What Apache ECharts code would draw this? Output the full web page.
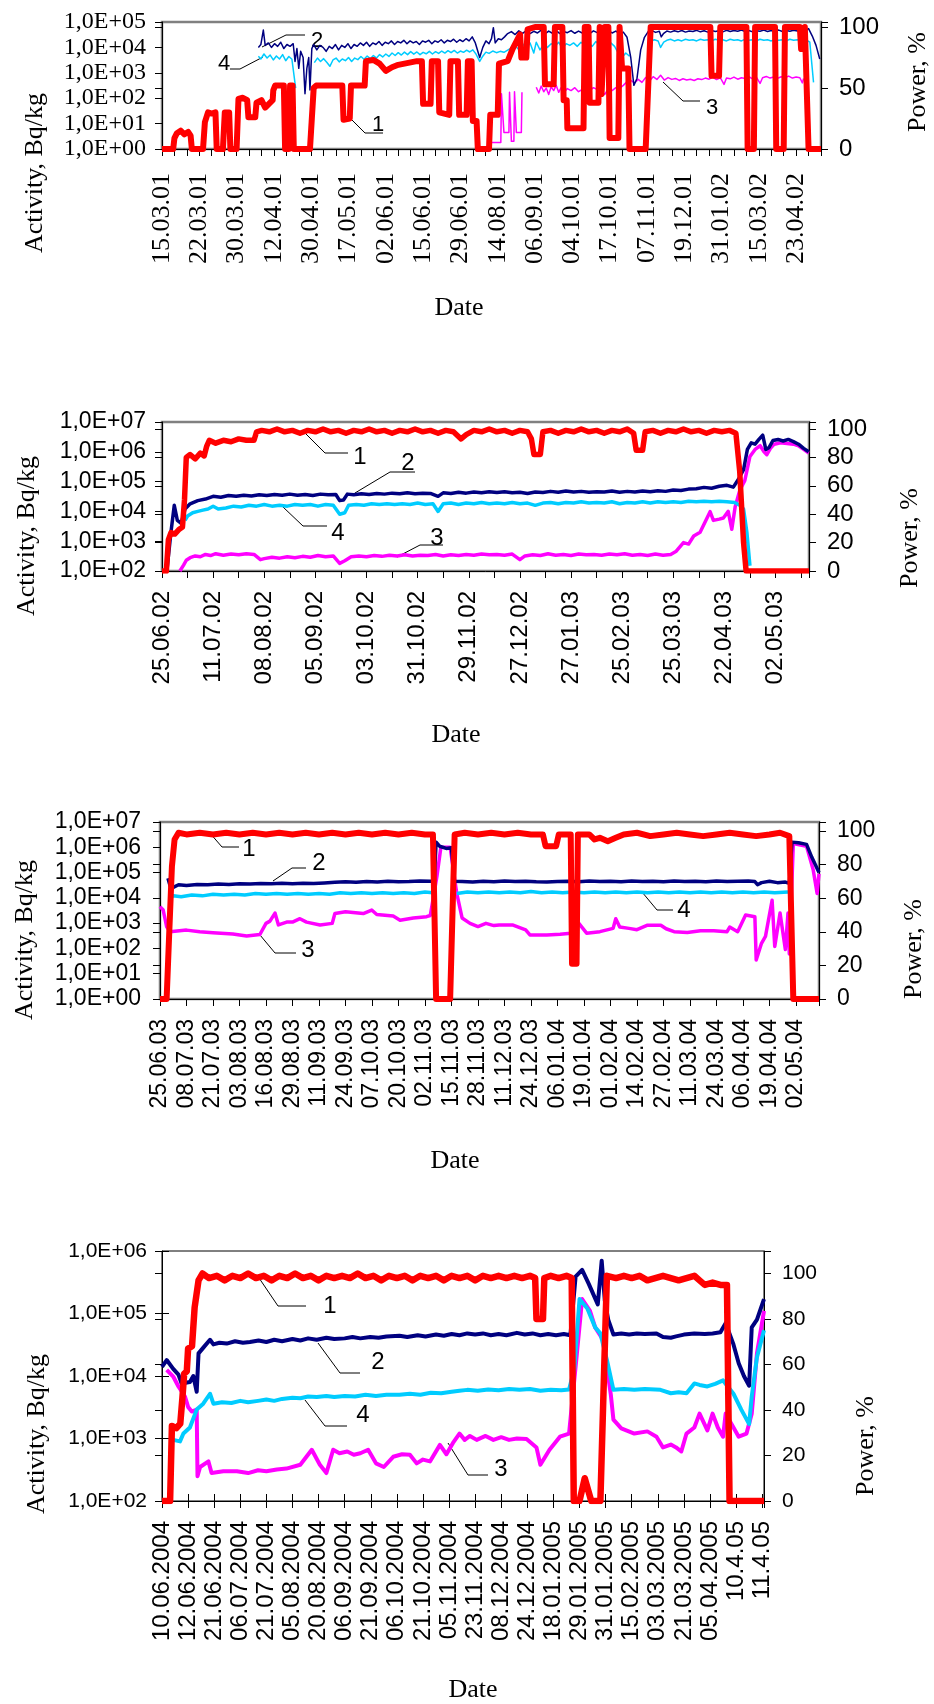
<!DOCTYPE html>
<html>
<head>
<meta charset="utf-8">
<title>Activity and power</title>
<script src="https://cdn.jsdelivr.net/npm/echarts@6/dist/echarts.min.js"></script>
<style>
  html, body { margin: 0; padding: 0; background: #fff; }
  #chart { width: 934px; height: 1704px; }
</style>
</head>
<body>
<div id="chart"></div>
<script>
// date labels, one every `step` ticks
const p1Labels = ['15.03.01','22.03.01','30.03.01','12.04.01','30.04.01','17.05.01','02.06.01','15.06.01','29.06.01',
  '14.08.01','06.09.01','04.10.01','17.10.01','07.11.01','19.12.01','31.01.02','15.03.02','23.04.02'];
const p2Labels = ['25.06.02','11.07.02','08.08.02','05.09.02','03.10.02','31.10.02','29.11.02','27.12.02','27.01.03',
  '25.02.03','25.03.03','22.04.03','02.05.03'];
const p3Labels = ['25.06.03','08.07.03','21.07.03','03.08.03','16.08.03','29.08.03','11.09.03','24.09.03','07.10.03',
  '20.10.03','02.11.03','15.11.03','28.11.03','11.12.03','24.12.03','06.01.04','19.01.04','01.02.04','14.02.04',
  '27.02.04','11.03.04','24.03.04','06.04.04','19.04.04','02.05.04'];
const p4Labels = ['10.06.2004','12.06.2004','21.06.2004','06.07.2004','21.07.2004','05.08.2004','20.08.2004','06.09.2004',
  '21.09.2004','06.10.2004','21.10.2004','05.11.2004','23.11.2004','08.12.2004','24.12.2004','18.01.2005','29.01.2005',
  '31.01.2005','15.02.2005','03.03.2005','21.03.2005','05.04.2005','10.4.05','11.4.05'];

// data points are [tick position, value]; power in %, activity in Bq/kg
// curve 1 = power, 2 = navy, 3 = magenta, 4 = light blue
const p1Power = [[0,0],[0.9,0],[1.0,9],[1.2,13],[1.5,15],[1.8,12],[2.1,14],[2.3,11],[2.4,0],[3.3,0],[3.45,22],[3.7,30],[4.0,29],
  [4.3,30],[4.4,0],[4.9,0],[5.05,30],[5.4,30],[5.5,0],[6.0,0],[6.15,41],[6.5,42],[6.85,40],[6.95,26],[7.5,26],[7.6,38],
  [8.0,40],[8.3,34],[8.6,37],[8.9,40],[8.95,48],[9.1,52],[9.8,52],[9.9,0],[10.2,0],[10.3,52],[10.5,52],[10.6,0],[11.9,0],
  [12.2,50],[12.4,52],[13.5,52],[14.5,52],[14.6,24],[15.1,25],[15.2,52],[16.3,52],[16.4,72],[17.0,73],[17.5,70],[18.0,64],
  [18.5,67],[19.0,69],[19.5,70],[20.0,71],[20.5,72],[20.9,72],[21.0,37],[21.6,37],[21.7,72],[22.2,72],[22.3,30],[23.1,28],
  [23.2,72],[23.8,72],[23.9,28],[24.5,28],[24.6,72],[24.9,72],[25.0,23],[25.3,23],[25.4,0],[26.3,0],[26.4,28],[27.0,28],
  [27.1,70],[27.8,72],[28.2,82],[28.6,90],[28.8,94],[28.9,75],[29.3,75],[29.4,98],[30.0,100],[30.7,100],[30.8,53],
  [31.5,53],[31.6,100],[32.2,100],[32.3,40],[32.55,40],[32.6,17],[33.9,17],[34.0,100],[34.3,100],[34.4,38],[35.1,38],
  [35.2,100],[35.35,45],[35.6,100],[35.9,100],[36.0,9],[36.7,9],[36.8,100],[37.0,66],[37.5,66],[37.6,0],[38.9,0],
  [39.3,100],[44.1,100],[44.2,60],[44.8,60],[44.9,100],[47.0,100],[47.1,0],[47.6,0],[47.7,100],[49.3,100],[49.4,0],
  [50.0,0],[50.1,100],[51.3,100],[51.4,82],[51.6,82],[51.7,100],[51.8,100],[52.0,0],[53,0]];
const p1Act2 = [[7.75,1.0e4],[7.95,1.3e4],[8.15,4.8e4],[8.3,1.2e4],[8.55,1.5e4],[8.8,1.0e4],[9.05,1.4e4],[9.3,1.1e4],
  [9.55,1.6e4],[9.8,9e3],[10.05,1.3e4],[10.3,1.1e4],[10.55,1.4e4],[10.7,2.8e3],[10.85,9e3],[11.0,1.5e3],[11.15,7e3],
  [11.35,4e3],[11.5,1.5e2],[11.65,1.5e3],[11.8,4e3],[11.9,2.1e2],[12.05,9e3],[12.2,1.3e4],[12.45,8e3],[12.7,1.2e4],
  [12.95,1.0e4],[13.2,7e3],[13.45,1.1e4],[13.7,9e3],[13.95,1.3e4],[14.2,8e3],[14.45,1.2e4],[14.7,1.0e4],[14.95,1.4e4],
  [15.2,9e3],[15.45,1.3e4],[15.7,1.1e4],[15.95,1.5e4],[16.2,1.2e4],[16.45,1.6e4],[16.7,1.1e4],[16.95,1.5e4],[17.2,1.3e4],
  [17.45,1.7e4],[17.7,1.2e4],[17.95,1.6e4],[18.2,1.4e4],[18.45,1.8e4],[18.7,1.3e4],[18.95,1.7e4],[19.2,1.5e4],[19.45,1.9e4],
  [19.7,1.4e4],[19.95,1.8e4],[20.2,1.5e4],[20.45,1.7e4],[20.7,1.3e4],[20.95,1.8e4],[21.2,1.6e4],[21.45,1.9e4],[21.7,1.4e4],
  [21.95,1.8e4],[22.2,1.6e4],[22.45,2.0e4],[22.7,1.5e4],[22.95,1.9e4],[23.2,1.7e4],[23.45,2.1e4],[23.7,1.6e4],[23.95,2.0e4],
  [24.2,1.7e4],[24.45,2.2e4],[24.7,1.8e4],[24.95,2.6e4],[25.2,1.5e4],[25.55,4e3],[25.8,1.0e4],[26.05,1.8e4],[26.3,1.4e4],
  [26.5,2.2e4],[26.65,6e4],[26.8,1.5e4],[27.05,2.2e4],[27.3,2.0e4],[27.55,2.6e4],[27.8,3.5e4],[28.1,4.2e4],[28.4,3.2e4],
  [28.7,4.5e4],[29.0,3.6e4],[29.3,4.6e4],[29.6,3.5e4],[29.9,4.3e4],[30.2,3.7e4],[30.5,4.8e4],[30.8,3.4e4],[31.1,4.4e4],
  [31.4,3.6e4],[31.7,4.6e4],[32.0,3.5e4],[32.3,4.2e4],[32.6,3.8e4],[32.9,4.6e4],[33.2,3.6e4],[33.5,4.4e4],[33.8,3.7e4],
  [34.1,4.8e4],[34.4,3.5e4],[34.7,4.5e4],[35.0,3.8e4],[35.3,4.3e4],[35.6,3.6e4],[35.9,4.6e4],[36.2,3.7e4],[36.5,4.4e4],
  [36.8,3.5e4],[37.1,4.0e4],[37.4,2.5e4],[37.7,4e3],[37.95,3.2e2],[38.2,6e2],[38.5,8e3],[38.8,2.5e4],[39.1,4.2e4],
  [39.4,4.6e4],[39.7,3.9e4],[40.0,4.3e4],[40.15,2.6e4],[40.35,3.6e4],[40.6,4.4e4],[40.9,4.0e4],[41.2,4.5e4],[41.5,4.1e4],
  [41.8,4.6e4],[42.1,4.0e4],[42.4,4.4e4],[42.7,4.2e4],[43.0,4.7e4],[43.3,4.1e4],[43.6,4.5e4],[43.9,4.0e4],[44.2,4.6e4],
  [44.5,4.2e4],[44.8,4.5e4],[45.1,4.1e4],[45.4,4.7e4],[45.7,4.2e4],[46.0,4.6e4],[46.3,4.3e4],[46.6,4.8e4],[46.9,4.2e4],
  [47.2,4.6e4],[47.5,4.1e4],[47.8,4.5e4],[48.1,4.3e4],[48.4,4.8e4],[48.7,4.2e4],[49.0,4.6e4],[49.3,4.4e4],[49.6,4.8e4],
  [49.9,4.2e4],[50.2,4.6e4],[50.5,4.3e4],[50.8,4.7e4],[51.1,4.4e4],[51.4,4.8e4],[51.7,4.5e4],[52.0,5.5e4],[52.3,2.8e4],
  [52.6,1.2e4],[52.9,3.5e3]];
const p1Act3 = [[26.4,1.8],[27.25,1.8],[27.3,1.5e2],[27.45,1.5e2],[27.5,4.5],[27.9,4.5],[27.95,1.7e2],[28.05,1.7e2],
  [28.1,2],[28.3,2],[28.35,1.8e2],[28.45,1.8e2],[28.5,4.5],[28.9,4.5],[28.95,1.7e2],[29.0,1.7e2],[29.05,null],
  [30.1,2.7e2],[30.3,1.6e2],[30.5,3e2],[30.7,1.8e2],[30.9,2.5e2],[31.1,1.4e2],[31.3,2.8e2],[31.5,2e2],[31.7,3.2e2],
  [31.9,1.7e2],[32.1,2.6e2],[32.3,1.6e2],[32.6,2.4e2],[32.9,2e2],[33.2,2.6e2],[33.5,1.8e2],[33.8,2.2e2],[34.1,2.4e2],
  [34.4,2.0e2],[34.7,2.6e2],[35.0,2.2e2],[35.3,2.0e2],[35.6,1.4e2],[35.9,2.4e2],[36.2,2.0e2],[36.5,2.6e2],[36.8,2.4e2],
  [37.1,3.2e2],[37.4,4.5e2],[37.7,5e2],[38.0,4e2],[38.3,5.5e2],[38.6,4.2e2],[38.9,6.5e2],[39.2,4.8e2],[39.5,7e2],
  [39.8,5.5e2],[40.1,8e2],[40.4,5.2e2],[40.7,6.5e2],[41.0,5.5e2],[41.3,6e2],[41.6,5e2],[41.9,5.8e2],[42.2,5.2e2],
  [42.5,5.6e2],[42.8,5.0e2],[43.1,5.8e2],[43.4,5.4e2],[43.7,6.2e2],[44.0,5.6e2],[44.3,6.6e2],[44.6,5.4e2],[44.9,6.4e2],
  [45.2,3.5e2],[45.4,6.2e2],[45.7,5.8e2],[46.0,6.8e2],[46.3,5.6e2],[46.6,6.4e2],[46.9,6e2],[47.2,7e2],[47.5,5.8e2],
  [47.8,6.8e2],[48.1,3.8e2],[48.3,6.4e2],[48.6,7.2e2],[48.9,6.2e2],[49.2,6.8e2],[49.5,6e2],[49.8,7e2],[50.1,6.4e2],
  [50.4,7.4e2],[50.7,6.2e2],[51.0,6.8e2],[51.3,6.4e2],[51.5,4e2],[51.6,6e2]];
const p1Act4 = [[7.75,4.5e3],[7.95,3.5e3],[8.2,5.5e3],[8.45,3.8e3],[8.7,5e3],[8.95,3.2e3],[9.2,4.6e3],[9.45,3.5e3],
  [9.7,5.2e3],[9.95,3e3],[10.2,4.4e3],[10.45,3.4e3],[10.6,4e3],[10.75,2.5e2],[10.8,null],
  [12.25,2.5e3],[12.5,3.8e3],[12.75,2.8e3],[13.0,3.6e3],[13.25,2.6e3],[13.5,1.8e3],[13.75,3.2e3],[14.0,3.8e3],[14.25,2.7e3],
  [14.5,3.5e3],[14.75,3.0e3],[15.0,4.0e3],[15.25,2.8e3],[15.5,3.8e3],[15.75,3.3e3],[16.0,4.4e3],[16.25,3.4e3],[16.5,4.6e3],
  [16.75,3.6e3],[17.0,4.8e3],[17.25,3.8e3],[17.5,5.2e3],[17.75,4.2e3],[18.0,5.5e3],[18.25,4.4e3],[18.5,6.0e3],[18.75,4.8e3],
  [19.0,6.2e3],[19.25,5.0e3],[19.5,6.5e3],[19.75,5.2e3],[20.0,6.8e3],[20.25,5.4e3],[20.5,6.6e3],[20.75,5.2e3],[21.0,6.4e3],
  [21.25,5.6e3],[21.5,7.0e3],[21.75,5.5e3],[22.0,6.8e3],[22.25,5.8e3],[22.5,7.2e3],[22.75,6.0e3],[23.0,7.4e3],[23.25,6.2e3],
  [23.5,7.6e3],[23.75,6.0e3],[24.0,7.2e3],[24.25,6.4e3],[24.5,7.8e3],[24.75,6.6e3],[25.0,8.0e3],[25.25,5.5e3],[25.55,2.8e3],
  [25.8,4.5e3],[26.05,6.5e3],[26.3,5.8e3],[26.6,7.2e3],[26.9,6.2e3],[27.2,7.0e3],[27.5,6.4e3],[27.8,7.8e3],[28.1,9.5e3],
  [28.4,1.2e4],[28.7,8e3],[29.0,1.4e4],[29.3,9e3],[29.6,1.5e4],[29.9,6e3],[30.1,1.6e4],[30.4,8e3],[30.7,1.3e4],[31.0,1.0e4],
  [31.3,1.4e4],[31.6,1.1e4],[31.9,1.6e4],[32.2,9e3],[32.5,1.4e4],[32.8,1.2e4],[33.1,1.5e4],[33.4,1.1e4],[33.7,1.6e4],
  [34.0,1.2e4],[34.3,1.5e4],[34.6,1.1e4],[34.9,1.7e4],[35.2,1.2e4],[35.5,1.6e4],[35.8,1.3e4],[36.1,1.5e4],[36.4,1.1e4],
  [36.7,6e3],[37.0,4e3],[37.3,6e3],[37.6,4.5e3],[37.8,null],
  [39.3,1.8e4],[39.6,2.0e4],[39.9,1.8e4],[40.1,1.0e4],[40.35,1.6e4],[40.6,1.9e4],[40.9,2.1e4],[41.2,1.8e4],[41.5,2.0e4],
  [41.8,1.8e4],[42.1,2.1e4],[42.4,1.9e4],[42.7,2.0e4],[43.0,1.8e4],[43.3,2.1e4],[43.6,1.9e4],[43.9,2.0e4],[44.2,1.8e4],
  [44.5,2.1e4],[44.8,1.9e4],[45.1,2.0e4],[45.4,1.8e4],[45.7,2.1e4],[46.0,1.9e4],[46.3,2.0e4],[46.6,1.8e4],[46.9,2.1e4],
  [47.2,1.9e4],[47.5,2.0e4],[47.8,1.8e4],[48.1,2.1e4],[48.4,1.9e4],[48.7,2.0e4],[49.0,1.8e4],[49.3,2.1e4],[49.6,1.9e4],
  [49.9,2.0e4],[50.2,1.8e4],[50.5,2.1e4],[50.8,1.9e4],[51.1,2.0e4],[51.4,1.8e4],[51.8,2.0e4],[52.1,1.6e4],[52.4,4.2e2]];

const p2Power = [[0,0],[0.17,0],[0.25,22],[0.35,27],[0.5,26],[0.65,29],[0.8,31],[0.88,50],[0.95,80],[1.1,82],[1.3,79],
  [1.5,83],[1.65,81],[1.75,88],[1.85,92],[2.1,90],[2.4,92],[2.7,91],[3.0,93],[3.3,92],[3.6,92],[3.7,98],[3.9,99],[4.2,98],
  [4.5,100],[4.8,98],[5.1,99],[5.4,97],[5.7,99],[6.0,98],[6.3,100],[6.6,98],[6.9,99],[7.2,97],[7.5,99],[7.8,98],[8.1,100],
  [8.4,98],[8.7,99],[9.0,97],[9.3,99],[9.6,98],[9.9,100],[10.2,98],[10.5,99],[10.8,97],[11.1,99],[11.4,98],[11.7,93],
  [11.9,96],[12.2,99],[12.5,98],[12.8,100],[13.1,98],[13.4,99],[13.7,97],[14.0,99],[14.3,98],[14.45,93],[14.55,82],
  [14.8,82],[14.9,98],[15.2,99],[15.5,97],[15.8,99],[16.1,98],[16.4,100],[16.7,98],[17.0,99],[17.3,97],[17.6,99],[17.9,98],
  [18.2,100],[18.45,97],[18.55,85],[18.8,85],[18.9,98],[19.2,99],[19.5,97],[19.8,99],[20.1,98],[20.4,100],[20.7,98],
  [21.0,99],[21.3,97],[21.6,99],[21.9,98],[22.2,99],[22.45,97],[22.6,70],[22.75,20],[22.85,0],[25.31,0]];
const p2Act2 = [[0.2,1.2e2],[0.35,2e3],[0.48,1.6e4],[0.6,5e3],[0.75,4e3],[0.9,1.2e4],[1.1,1.8e4],[1.4,2.3e4],[1.7,2.6e4],
  [2.0,3.2e4],[2.3,3.0e4],[2.6,3.4e4],[2.9,3.2e4],[3.2,3.5e4],[3.5,3.3e4],[3.8,3.6e4],[4.1,3.4e4],[4.4,3.7e4],[4.7,3.5e4],
  [5.0,3.8e4],[5.3,3.5e4],[5.6,3.7e4],[5.9,3.4e4],[6.2,3.8e4],[6.5,3.6e4],[6.8,3.7e4],[6.95,2.3e4],[7.1,2.4e4],[7.25,3.8e4],
  [7.5,3.6e4],[7.8,3.9e4],[8.1,3.7e4],[8.4,4.0e4],[8.7,3.8e4],[9.0,4.1e4],[9.3,3.9e4],[9.6,4.2e4],[9.9,3.9e4],[10.2,4.1e4],
  [10.5,4.0e4],[10.8,3.2e4],[11.0,4.2e4],[11.3,4.0e4],[11.6,4.4e4],[11.9,4.1e4],[12.2,4.5e4],[12.5,4.2e4],[12.8,4.6e4],
  [13.1,4.3e4],[13.4,4.6e4],[13.7,4.2e4],[14.0,4.4e4],[14.3,4.0e4],[14.6,4.5e4],[14.9,4.3e4],[15.2,4.7e4],[15.5,4.4e4],
  [15.8,4.8e4],[16.1,4.5e4],[16.4,4.7e4],[16.7,4.4e4],[17.0,4.6e4],[17.3,4.5e4],[17.6,4.8e4],[17.9,4.4e4],[18.2,4.7e4],
  [18.5,4.5e4],[18.8,4.8e4],[19.1,4.6e4],[19.4,4.9e4],[19.7,4.7e4],[20.0,5.2e4],[20.3,5.0e4],[20.6,5.6e4],[20.9,5.8e4],
  [21.2,6.4e4],[21.5,6.0e4],[21.8,7.0e4],[22.1,7.5e4],[22.35,6.5e4],[22.55,1.2e5],[22.75,2.5e5],[22.9,1.2e6],[23.05,2.0e6],
  [23.2,1.8e6],[23.35,2.6e6],[23.5,3.6e6],[23.62,1.2e6],[23.75,1.4e6],[23.9,2.4e6],[24.1,2.6e6],[24.3,2.3e6],[24.5,2.6e6],
  [24.7,2.2e6],[24.9,1.8e6],[25.1,1.3e6],[25.3,1.0e6]];
const p2Act3 = [[0.7,1e2],[0.85,1.6e2],[0.95,2.3e2],[1.1,2.8e2],[1.3,3.2e2],[1.5,3.0e2],[1.7,3.6e2],[1.9,3.3e2],[2.1,3.8e2],
  [2.4,3.4e2],[2.7,3.7e2],[3.0,3.5e2],[3.3,3.8e2],[3.6,3.6e2],[3.85,2.4e2],[4.0,2.6e2],[4.3,2.9e2],[4.6,2.7e2],[4.9,3.0e2],
  [5.2,2.8e2],[5.5,3.1e2],[5.8,2.9e2],[6.1,3.3e2],[6.4,3.0e2],[6.7,3.2e2],[6.95,1.8e2],[7.15,2.2e2],[7.4,3.0e2],[7.7,3.2e2],
  [8.0,3.0e2],[8.3,3.3e2],[8.6,3.1e2],[8.9,3.4e2],[9.2,3.2e2],[9.5,3.5e2],[9.8,3.2e2],[10.1,3.4e2],[10.4,3.3e2],[10.7,3.6e2],
  [11.0,3.2e2],[11.3,3.5e2],[11.6,3.3e2],[11.9,3.6e2],[12.2,3.4e2],[12.5,3.7e2],[12.8,3.5e2],[13.1,3.6e2],[13.4,3.4e2],
  [13.7,3.7e2],[14.0,2.4e2],[14.2,3.2e2],[14.5,3.5e2],[14.8,3.3e2],[15.1,3.8e2],[15.4,3.4e2],[15.7,3.6e2],[16.0,3.3e2],
  [16.3,3.7e2],[16.6,3.5e2],[16.9,3.6e2],[17.2,3.4e2],[17.5,3.7e2],[17.8,3.5e2],[18.1,3.8e2],[18.4,3.4e2],[18.7,3.6e2],
  [19.0,3.3e2],[19.3,3.7e2],[19.6,3.4e2],[19.9,3.6e2],[20.1,4.5e2],[20.4,9e2],[20.6,8e2],[20.8,1.5e3],[21.05,2.0e3],
  [21.25,4.5e3],[21.44,9.8e3],[21.57,5e3],[21.8,5.5e3],[21.96,6e3],[22.15,1.0e4],[22.29,2.5e3],[22.42,1.4e4],[22.6,5e4],
  [22.8,1.1e5],[23.0,7e5],[23.2,1.2e6],[23.4,1.6e6],[23.55,1.0e6],[23.66,8e5],[23.8,1.3e6],[23.95,1.8e6],[24.2,2.0e6],
  [24.45,1.9e6],[24.7,1.8e6],[24.9,1.6e6],[25.1,1.2e6],[25.3,9e5]];
const p2Act4 = [[0.9,5e3],[1.0,7e3],[1.2,9e3],[1.4,1.0e4],[1.6,1.1e4],[1.8,1.2e4],[2.0,1.5e4],[2.2,1.2e4],[2.5,1.3e4],
  [2.8,1.5e4],[3.1,1.4e4],[3.4,1.6e4],[3.7,1.5e4],[4.0,1.7e4],[4.3,1.5e4],[4.6,1.6e4],[4.9,1.5e4],[5.2,1.7e4],[5.5,1.6e4],
  [5.8,1.7e4],[6.1,1.5e4],[6.4,1.7e4],[6.7,1.6e4],[6.95,8e3],[7.15,9e3],[7.3,1.6e4],[7.6,1.7e4],[7.9,1.6e4],[8.2,1.8e4],
  [8.5,1.7e4],[8.8,1.8e4],[9.1,1.7e4],[9.4,1.8e4],[9.7,1.7e4],[10.0,1.9e4],[10.3,1.7e4],[10.6,1.8e4],[10.8,1.0e4],
  [11.0,1.8e4],[11.3,1.9e4],[11.6,1.7e4],[11.9,1.9e4],[12.2,1.8e4],[12.5,2.0e4],[12.8,1.8e4],[13.1,1.9e4],[13.4,1.8e4],
  [13.7,2.0e4],[14.0,1.8e4],[14.3,1.9e4],[14.6,1.6e4],[14.9,1.9e4],[15.2,2.0e4],[15.5,1.8e4],[15.8,2.0e4],[16.1,1.9e4],
  [16.4,2.1e4],[16.7,1.9e4],[17.0,2.0e4],[17.3,1.9e4],[17.6,2.1e4],[17.9,1.8e4],[18.2,2.0e4],[18.5,1.9e4],[18.8,2.1e4],
  [19.1,1.9e4],[19.4,2.1e4],[19.7,2.0e4],[20.0,2.1e4],[20.3,2.0e4],[20.6,2.2e4],[20.9,2.1e4],[21.2,2.2e4],[21.5,2.1e4],
  [21.8,2.2e4],[22.1,2.1e4],[22.4,2.0e4],[22.6,1.6e4],[22.75,1.2e4],[22.88,2e3],[23.0,1.5e2]];

const p3Power = [[0,0],[0.25,0],[0.35,40],[0.45,79],[0.55,95],[0.7,99],[1.0,98],[1.5,99],[2.0,98],[2.5,99],[3.0,98],
  [3.5,99],[4.0,98],[4.5,99],[5.0,98],[5.5,99],[6.0,98],[6.5,99],[7.0,98],[7.5,99],[8.0,98],[8.5,99],[9.0,98],[9.5,99],
  [10.0,98],[10.3,98],[10.42,0],[10.95,0],[11.12,98],[11.5,99],[12.0,98],[12.5,99],[13.0,98],[13.5,99],[14.0,98],[14.45,98],
  [14.55,91],[14.95,91],[15.05,98],[15.5,98],[15.55,21],[15.72,21],[15.77,98],[16.2,98],[16.4,95],[16.6,96],[16.9,94],
  [17.2,96],[17.5,98],[18.0,99],[18.5,97],[19.0,98],[19.5,99],[20.0,98],[20.5,97],[21.0,98],[21.5,99],[22.0,98],[22.5,97],
  [23.0,98],[23.4,99],[23.75,97],[23.9,0],[24.87,0]];
const p3Act2 = [[0.3,6e4],[0.38,3.0e4],[0.5,2.6e4],[0.7,3.3e4],[1.0,3.1e4],[1.4,3.4e4],[1.8,3.3e4],[2.2,3.5e4],[2.6,3.4e4],
  [3.0,3.6e4],[3.4,3.5e4],[3.8,3.7e4],[4.2,3.6e4],[4.6,3.8e4],[5.0,3.6e4],[5.4,3.8e4],[5.8,3.7e4],[6.2,3.9e4],[6.6,4.1e4],
  [7.0,4.3e4],[7.4,4.1e4],[7.8,4.4e4],[8.2,4.2e4],[8.6,4.5e4],[9.0,4.3e4],[9.4,4.4e4],[9.8,4.6e4],[10.2,4.5e4],[10.35,4.6e4],
  [10.42,1.6e6],[10.55,1.1e6],[10.8,9e5],[11.0,9.5e5],[11.1,4.5e4],[11.4,4.4e4],[11.8,4.2e4],[12.2,4.5e4],[12.6,4.3e4],
  [13.0,4.6e4],[13.4,4.4e4],[13.8,4.5e4],[14.2,4.3e4],[14.6,4.2e4],[15.0,4.4e4],[15.4,4.5e4],[15.8,4.3e4],[16.2,4.6e4],
  [16.6,4.4e4],[17.0,4.5e4],[17.4,4.3e4],[17.8,4.6e4],[18.2,4.4e4],[18.6,4.5e4],[19.0,4.3e4],[19.4,4.6e4],[19.8,4.4e4],
  [20.2,4.5e4],[20.6,4.3e4],[21.0,4.6e4],[21.4,4.4e4],[21.8,4.5e4],[22.2,4.6e4],[22.45,4.4e4],[22.55,3.3e4],[22.7,4.0e4],
  [23.0,4.5e4],[23.3,4.0e4],[23.6,4.2e4],[23.75,3.8e4],[23.85,1.6e6],[24.1,1.5e6],[24.4,1.3e6],[24.6,4e5],[24.87,1.0e5]];
const p3Act3 = [[0,4.5e3],[0.12,3.3e3],[0.2,1.3e3],[0.25,7.2e2],[0.38,4.6e2],[1.0,5.3e2],[1.5,4.6e2],[2.0,4.2e2],
  [2.75,3.7e2],[3.27,3.1e2],[3.77,3.55e2],[4.0,9.8e2],[4.15,1.2e3],[4.34,2.5e3],[4.47,8.5e2],[4.78,1.1e3],[5.0,1.1e3],
  [5.28,1.5e3],[5.53,1.1e3],[6.04,8.4e2],[6.5,9.8e2],[6.6,2.4e3],[7.0,2.8e3],[7.67,2.4e3],[7.99,3.3e3],[8.18,2.2e3],
  [8.8,1.9e3],[9.06,1.3e3],[9.56,1.6e3],[10.06,1.8e3],[10.2,2.0e3],[10.45,7e4],[10.6,1.0e6],[10.95,1.0e6],[11.2,1.5e4],
  [11.4,1.6e3],[11.7,9.8e2],[12.0,7.3e2],[12.3,9.8e2],[12.6,8e2],[12.8,8.5e2],[13.3,8.5e2],[13.8,5.4e2],[13.96,3.4e2],
  [14.6,3.4e2],[15.1,3.6e2],[15.5,4.0e2],[15.8,1.0e3],[16.1,4.0e2],[16.6,4.6e2],[17.1,6.2e2],[17.2,1.5e3],[17.35,7e2],
  [17.7,6.2e2],[18.0,5.5e2],[18.4,8.3e2],[18.9,8.3e2],[19.1,6.0e2],[19.4,4.6e2],[19.9,4.3e2],[20.4,5.0e2],[20.9,5.0e2],
  [21.4,4.6e2],[21.5,7e2],[21.8,4.6e2],[22.1,2.1e3],[22.45,1.8e3],[22.5,35],[22.7,1.6e2],[22.85,3e2],[23.1,8e3],
  [23.2,1.2e2],[23.4,2.5e3],[23.6,90],[23.7,2.5e3],[23.75,60],[23.9,1.4e6],[24.4,1.1e6],[24.65,1.3e5],[24.8,1.5e4],
  [24.87,9e4]];
const p3Act4 = [[0.35,1.0e4],[0.5,1.2e4],[0.8,1.1e4],[1.2,1.3e4],[1.6,1.2e4],[2.0,1.4e4],[2.4,1.3e4],[2.8,1.4e4],[3.2,1.3e4],
  [3.6,1.5e4],[4.0,1.4e4],[4.4,1.5e4],[4.8,1.4e4],[5.2,1.5e4],[5.6,1.4e4],[6.0,1.5e4],[6.4,1.4e4],[6.8,1.6e4],[7.2,1.5e4],
  [7.6,1.6e4],[8.0,1.5e4],[8.4,1.6e4],[8.8,1.5e4],[9.2,1.6e4],[9.6,1.5e4],[10.0,1.7e4],[10.3,1.6e4],[10.35,null],
  [11.2,1.5e4],[11.6,1.7e4],[12.0,1.6e4],[12.4,1.7e4],[12.8,1.6e4],[13.2,1.7e4],[13.6,1.6e4],[14.0,1.8e4],[14.4,1.6e4],
  [14.8,1.7e4],[15.2,1.6e4],[15.6,1.7e4],[16.0,1.6e4],[16.4,1.7e4],[16.8,1.6e4],[17.2,1.7e4],[17.6,1.6e4],[18.0,1.7e4],
  [18.4,1.6e4],[18.8,1.7e4],[19.2,1.6e4],[19.6,1.7e4],[20.0,1.6e4],[20.4,1.7e4],[20.8,1.6e4],[21.2,1.7e4],[21.6,1.6e4],
  [22.0,1.7e4],[22.4,1.6e4],[22.8,1.7e4],[23.2,1.6e4],[23.7,1.7e4]];

const p4Power = [[0,0],[0.31,0],[0.38,33],[0.55,32],[0.7,34],[0.78,45],[0.85,56],[0.95,57],[1.0,67],[1.15,68],[1.25,85],
  [1.4,97],[1.55,100],[1.8,98],[2.1,99],[2.4,97],[2.7,99],[3.0,98],[3.3,100],[3.6,98],[3.9,99],[4.2,97],[4.5,99],[4.8,98],
  [5.1,100],[5.4,98],[5.7,99],[6.0,97],[6.3,99],[6.6,98],[6.9,99],[7.2,98],[7.5,100],[7.8,98],[8.1,99],[8.4,97],[8.7,99],
  [9.0,98],[9.3,99],[9.6,97],[9.9,99],[10.2,98],[10.5,99],[10.8,97],[11.1,99],[11.4,98],[11.7,99],[12.0,97],[12.3,99],
  [12.6,98],[12.9,99],[13.2,98],[13.5,99],[13.8,98],[14.1,99],[14.3,98],[14.35,80],[14.6,80],[14.65,98],[14.9,99],
  [15.2,98],[15.5,99],[15.7,98],[15.78,0],[16.0,0],[16.2,10],[16.45,0],[16.8,0],[16.95,60],[17.05,99],[17.4,98],[17.7,99],
  [18.0,98],[18.3,99],[18.6,97],[18.9,98],[19.2,99],[19.5,98],[19.8,97],[20.1,98],[20.4,99],[20.6,97],[20.8,95],[21.1,96],
  [21.4,95],[21.65,95],[21.75,0],[23.07,0]];
const p4Act2 = [[0,1.4e4],[0.18,1.8e4],[0.43,1.3e4],[0.63,1.05e4],[0.75,7.6e3],[1.07,8e3],[1.2,1.0e4],[1.33,5.6e3],
  [1.4,2.3e4],[1.6,2.9e4],[1.84,3.8e4],[1.97,3.2e4],[2.2,3.4e4],[2.48,3.3e4],[2.8,3.6e4],[3.1,3.4e4],[3.37,3.5e4],
  [3.7,3.7e4],[4.0,3.5e4],[4.3,3.8e4],[4.6,3.6e4],[5.0,3.9e4],[5.3,3.7e4],[5.6,4.0e4],[5.93,3.8e4],[6.3,4.1e4],[6.6,3.9e4],
  [7.0,4.0e4],[7.3,4.2e4],[7.6,4.0e4],[7.98,4.2e4],[8.3,4.1e4],[8.6,4.3e4],[9.1,4.4e4],[9.4,4.2e4],[9.8,4.5e4],[10.1,4.3e4],
  [10.5,4.6e4],[10.8,4.4e4],[11.1,4.7e4],[11.4,4.5e4],[11.7,4.8e4],[12.0,4.6e4],[12.3,4.8e4],[12.6,4.5e4],[12.9,4.7e4],
  [13.2,4.5e4],[13.6,4.9e4],[13.9,4.6e4],[14.2,4.8e4],[14.5,4.5e4],[14.8,4.7e4],[15.1,4.5e4],[15.4,4.7e4],[15.65,4.5e4],
  [15.85,3.9e5],[16.1,5e5],[16.35,3.0e5],[16.7,1.4e5],[16.85,7e5],[16.97,1.6e5],[17.1,8e4],[17.3,4.6e4],[17.6,4.8e4],
  [17.9,4.6e4],[18.2,4.8e4],[18.5,4.7e4],[18.95,4.8e4],[19.2,4.2e4],[19.5,4.1e4],[19.7,4.3e4],[20.0,4.6e4],[20.4,4.8e4],
  [20.8,4.7e4],[21.1,4.8e4],[21.4,5.0e4],[21.6,7e4],[21.9,3.2e4],[22.1,1.6e4],[22.3,1.0e4],[22.5,7e3],[22.6,6e4],
  [22.8,8e4],[23.07,1.7e5]];
const p4Act3 = [[0.18,1.25e4],[0.43,9.8e3],[0.63,6.8e3],[0.88,4.7e3],[1.0,3.2e3],[1.14,2.7e3],[1.33,2.9e3],[1.36,2.5e2],
  [1.46,3.5e2],[1.78,4.3e2],[1.9,2.8e2],[2.35,3.0e2],[2.87,3.0e2],[3.3,2.8e2],[3.68,3.1e2],[4.0,3.0e2],[4.4,3.2e2],
  [4.77,3.3e2],[5.3,3.8e2],[5.74,6.6e2],[6.05,3.8e2],[6.3,2.8e2],[6.56,6.6e2],[6.8,5.8e2],[7.1,6.2e2],[7.35,5.5e2],
  [7.6,5.8e2],[7.9,6.6e2],[8.2,4.0e2],[8.5,3.5e2],[8.86,5.1e2],[9.2,5.6e2],[9.5,5.5e2],[9.76,4.0e2],[10.0,4.6e2],
  [10.27,4.3e2],[10.65,7.9e2],[10.9,5.6e2],[11.15,8.5e2],[11.4,1.2e3],[11.6,9.5e2],[11.8,1.1e3],[12.06,9.5e2],[12.4,1.1e3],
  [12.7,9.5e2],[13.0,1.05e3],[13.3,9.5e2],[13.6,1.0e3],[13.97,9.8e2],[14.35,7.2e2],[14.5,3.8e2],[14.85,6.6e2],
  [15.25,1.07e3],[15.6,1.2e3],[15.9,2.3e4],[16.1,1.7e5],[16.4,1.1e5],[16.6,6e4],[16.9,3.8e4],[17.2,5e3],[17.3,2e3],
  [17.6,1.45e3],[18.1,1.2e3],[18.6,1.3e3],[18.95,1.07e3],[19.2,7.2e2],[19.5,8e2],[19.7,7.2e2],[19.9,6.2e2],[20.1,1.2e3],
  [20.4,1.5e3],[20.6,2.5e3],[20.9,1.35e3],[21.1,2.5e3],[21.3,1.5e3],[21.5,1.07e3],[21.6,2.5e3],[21.9,1.5e3],[22.1,1.07e3],
  [22.4,1.2e3],[22.6,2.5e3],[22.8,2.3e4],[23.07,1.1e5]];
const p4Act4 = [[0.43,9.5e2],[0.69,9e2],[0.82,1.2e3],[1.07,1.5e3],[1.33,2.9e3],[1.58,3.6e3],[1.84,5.2e3],[1.97,3.6e3],
  [2.3,3.8e3],[2.66,3.7e3],[3.0,4.0e3],[3.3,3.8e3],[3.68,4.0e3],[4.0,4.2e3],[4.3,4.0e3],[4.6,4.3e3],[5.0,4.5e3],[5.3,4.4e3],
  [5.6,4.7e3],[5.93,4.6e3],[6.3,4.8e3],[6.6,4.6e3],[7.0,4.8e3],[7.4,4.7e3],[7.8,5.0e3],[8.2,4.8e3],[8.6,5.0e3],[9.1,5.0e3],
  [9.5,5.2e3],[9.9,5.0e3],[10.3,5.4e3],[10.7,5.3e3],[11.1,5.6e3],[11.4,5.8e3],[11.7,6.0e3],[12.1,5.8e3],[12.5,6.1e3],
  [12.9,5.9e3],[13.3,6.2e3],[13.7,6.0e3],[14.1,6.2e3],[14.5,5.8e3],[14.9,6.0e3],[15.3,5.9e3],[15.6,6.1e3],[15.8,1.3e4],
  [16.0,1.7e5],[16.3,1.2e5],[16.6,6e4],[16.8,4.8e4],[17.05,1.8e4],[17.3,6e3],[17.7,6.2e3],[18.1,6.0e3],[18.5,6.2e3],
  [19.1,6.0e3],[19.5,5.3e3],[19.8,5.5e3],[20.1,5.3e3],[20.4,7.6e3],[20.6,7.2e3],[20.9,6.8e3],[21.2,7.5e3],[21.5,8.5e3],
  [21.9,5.2e3],[22.2,2.9e3],[22.5,1.7e3],[22.6,4.7e3],[22.8,2e4],[23.07,5.4e4]];

const SERIF = '"Liberation Serif", "Times New Roman", serif';
const SANS = '"Liberation Sans", Arial, sans-serif';

// layout of the four panels (pixels)
const panels = [
  { left: 162, top: 22, width: 659, height: 127, xMax: 53, step: 3, labels: p1Labels, logMin: 1, logMax: 1e5,
    pMax: 104.1, pInterval: 50, xFont: [SERIF, 26], yFont: [SERIF, 24], rFont: [SANS, 24], xMargin: 24, yMargin: 16,
    border: '#808080', borderWidth: 2.5, crossX: false, crossLeft: false, widths: [1.5, 6],
    lines: [p1Act3, p1Act4, p1Act2, p1Power] },
  { left: 162, top: 422, width: 647, height: 149, xMax: 25.31, step: 2, labels: p2Labels, logMin: 100, logMax: 1e7,
    pMax: 104.9, pInterval: 20, xFont: [SANS, 24], yFont: [SANS, 23], rFont: [SANS, 24], xMargin: 20, yMargin: 16,
    border: '#808080', borderWidth: 2.5, crossX: false, crossLeft: false, widths: [3.5, 5.5],
    lines: [p2Act3, p2Act4, p2Act2, p2Power] },
  { left: 160, top: 822, width: 659, height: 177, xMax: 24.87, step: 1, labels: p3Labels, logMin: 1, logMax: 1e7,
    pMax: 105.4, pInterval: 20, xFont: [SANS, 23], yFont: [SANS, 23], rFont: [SANS, 23], xMargin: 20, yMargin: 19,
    border: '#808080', borderWidth: 2.5, crossX: false, crossLeft: false, widths: [3.5, 6],
    lines: [p3Act3, p3Act4, p3Act2, p3Power] },
  { left: 162, top: 1251, width: 602, height: 250, xMax: 23.07, step: 1, labels: p4Labels, logMin: 100, logMax: 1e6,
    pMax: 109.9, pInterval: 20, xFont: [SANS, 24], yFont: [SANS, 21], rFont: [SANS, 21], xMargin: 20, yMargin: 15,
    border: '#000', borderWidth: 1, crossX: true, crossLeft: true, widths: [4, 6.5],
    lines: [p4Act3, p4Act4, p4Act2, p4Power] }
];
const lineColors = ['#FF00FF', '#00CCFF', '#000080', '#FF0000'];

// axis titles: [text, centre x, centre y, vertical]
const titles = [
  ['Activity, Bq/kg', 35, 173, true], ['Power, %', 918, 82, true], ['Date', 459, 308, false],
  ['Activity, Bq/kg', 27, 536, true], ['Power, %', 910, 538, true], ['Date', 456, 735, false],
  ['Activity, Bq/kg', 25, 940, true], ['Power, %', 914, 949, true], ['Date', 455, 1161, false],
  ['Activity, Bq/kg', 37, 1434, true], ['Power, %', 866, 1446, true], ['Date', 473, 1690, false]
];
// curve numbers with their leader lines: [text, x, y, leader, font size]
const notes = [
  ['2', 317, 41, [[262,47],[286,35],[305,35]], 22],
  ['4', 224, 64, [[230,69],[240,69],[263,57]], 22],
  ['1', 378, 125, [[347,115],[365,133],[383,133]], 22],
  ['3', 712, 108, [[663,82],[683,101],[700,101]], 22],
  ['1', 360, 457, [[302,430],[325,453],[348,453]], 24],
  ['2', 408, 463, [[355,493],[390,472],[415,472]], 24],
  ['4', 338, 533, [[283,507],[303,526],[327,526]], 24],
  ['3', 437, 538, [[397,557],[420,545],[443,545]], 24],
  ['1', 249, 849, [[209,832],[222,847],[239,847]], 24],
  ['2', 319, 863, [[273,881],[292,868],[306,868]], 24],
  ['3', 308, 950, [[260,935],[275,953],[296,953]], 24],
  ['4', 684, 910, [[642,892],[657,910],[673,910]], 24],
  ['1', 330, 1306, [[257,1275],[278,1306],[306,1306]], 24],
  ['2', 378, 1362, [[318,1343],[340,1373],[360,1373]], 24],
  ['4', 363, 1415, [[305,1400],[325,1426],[347,1426]], 24],
  ['3', 501, 1469, [[448,1443],[468,1475],[488,1475]], 24]
];

function expLabel(v) {
  const e = Math.round(Math.log10(v));
  return '1,0E+' + String(e).padStart(2, '0');
}

const grid = [], xAxis = [], yAxis = [], series = [];
const black = { color: '#000', width: 1 };

panels.forEach((p, i) => {
  grid.push({ left: p.left, top: p.top, width: p.width, height: p.height, show: true,
    borderColor: p.border, borderWidth: p.borderWidth, backgroundColor: 'transparent',
    containLabel: false, outerBoundsMode: 'none' });

  const xi = xAxis.length;
  xAxis.push({
    type: 'value', gridIndex: i, position: 'bottom', min: 0, max: p.xMax, interval: 1,
    axisLine: { show: true, onZero: false, lineStyle: black },
    axisTick: { show: true, length: 7, lineStyle: black },
    splitLine: { show: false },
    axisLabel: {
      rotate: 90, margin: p.xMargin, color: '#000', fontFamily: p.xFont[0], fontSize: p.xFont[1],
      formatter: v => (Number.isInteger(v) && v % p.step === 0 && p.labels[v / p.step]) ? p.labels[v / p.step] : ''
    }
  });
  if (p.crossX) {
    xAxis.push({ type: 'value', gridIndex: i, position: 'bottom', min: 0, max: p.xMax, interval: 1,
      axisLine: { show: false }, axisLabel: { show: false }, splitLine: { show: false },
      axisTick: { show: true, inside: true, length: 7, lineStyle: black } });
  }

  const yi = yAxis.length;
  yAxis.push({
    type: 'log', logBase: 10, gridIndex: i, position: 'left', min: p.logMin, max: p.logMax,
    axisLine: { show: true, onZero: false, lineStyle: black },
    axisTick: { show: true, length: 7, lineStyle: black },
    splitLine: { show: false }, minorTick: { show: false },
    axisLabel: { margin: p.yMargin, color: '#000', fontFamily: p.yFont[0], fontSize: p.yFont[1], formatter: expLabel }
  });
  if (p.crossLeft) {
    yAxis.push({ type: 'log', logBase: 10, gridIndex: i, position: 'left', min: p.logMin, max: p.logMax,
      axisLine: { show: false }, axisLabel: { show: false }, splitLine: { show: false },
      axisTick: { show: true, inside: true, length: 7, lineStyle: black } });
  }

  const ri = yAxis.length;
  yAxis.push({
    type: 'value', gridIndex: i, position: 'right', min: 0, max: p.pMax, interval: p.pInterval,
    axisLine: { show: true, onZero: false, lineStyle: black },
    axisTick: { show: true, length: 7, lineStyle: black },
    splitLine: { show: false },
    axisLabel: { margin: 18, color: '#000', fontFamily: p.rFont[0], fontSize: p.rFont[1],
      formatter: v => (v % p.pInterval === 0 ? String(v) : '') }
  });
  yAxis.push({ type: 'value', gridIndex: i, position: 'right', min: 0, max: p.pMax, interval: p.pInterval,
    axisLine: { show: false }, axisLabel: { show: false }, splitLine: { show: false },
    axisTick: { show: true, inside: true, length: 7, lineStyle: black } });

  p.lines.forEach((data, k) => {
    const isPower = k === 3;
    series.push({
      type: 'line', xAxisIndex: xi, yAxisIndex: isPower ? ri : yi, data: data,
      showSymbol: false, symbol: 'none', connectNulls: false, silent: true,
      lineStyle: { color: lineColors[k], width: isPower ? p.widths[1] : p.widths[0], join: 'round' },
      emphasis: { disabled: true }, z: 2 + k
    });
  });
});

const graphic = [];
titles.forEach(([text, x, y, vertical]) => {
  graphic.push({ type: 'text', x: x, y: y, rotation: vertical ? Math.PI / 2 : 0, silent: true,
    style: { text: text, fill: '#000', font: '26px ' + SERIF, align: 'center', verticalAlign: 'middle' } });
});
notes.forEach(([text, x, y, pts, size]) => {
  graphic.push({ type: 'polyline', silent: true, shape: { points: pts },
    style: { stroke: '#000', lineWidth: 1, fill: null } });
  graphic.push({ type: 'text', x: x, y: y, silent: true,
    style: { text: text, fill: '#000', font: size + 'px ' + SANS, align: 'center', verticalAlign: 'middle' } });
});

const chart = echarts.init(document.getElementById('chart'), null, { renderer: 'canvas', width: 934, height: 1704 });
chart.setOption({
  animation: false,
  backgroundColor: '#fff',
  tooltip: { show: false },
  legend: { show: false },
  grid: grid,
  xAxis: xAxis,
  yAxis: yAxis,
  series: series,
  graphic: graphic
});
</script>
</body>
</html>
